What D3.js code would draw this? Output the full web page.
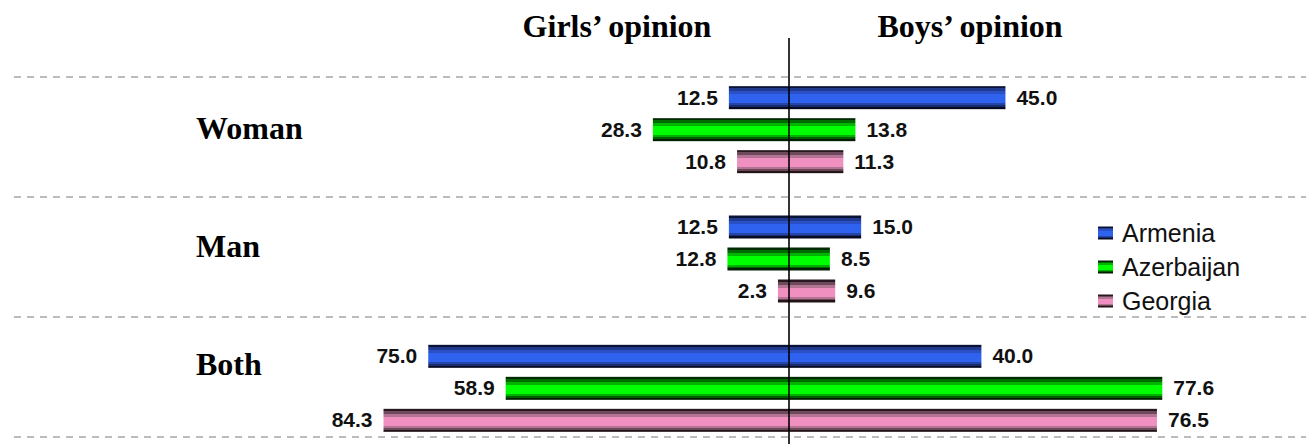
<!DOCTYPE html>
<html><head><meta charset="utf-8">
<script src="https://cdn.jsdelivr.net/npm/d3@7/dist/d3.min.js"></script>
<style>body{margin:0;background:#fff}svg{display:block}</style>
</head><body>
<svg id="c" width="1306" height="444"></svg>
<script>
const categories = ["Woman", "Man", "Both"];
const series = ["Armenia", "Azerbaijan", "Georgia"];
const girls = {            // left side
  Armenia:    [12.5, 12.5, 75.0],
  Azerbaijan: [28.3, 12.8, 58.9],
  Georgia:    [10.8, 2.3, 84.3]
};
const boys = {             // right side
  Armenia:    [45.0, 15.0, 40.0],
  Azerbaijan: [13.8, 8.5, 77.6],
  Georgia:    [11.3, 9.6, 76.5]
};
const sideTitles = ["Girls’ opinion", "Boys’ opinion"];

const palettes = {
  Armenia:    ["#0a1335","#1f3a8f","#2b4fc4","#2f62ee","#2645a8","#1a2c70","#060b22"],
  Azerbaijan: ["#002a00","#006a00","#00b400","#00ff00","#00b000","#006000","#002000"],
  Georgia:    ["#2a1820","#6e4a5c","#b47494","#f090c0","#b47494","#6a4858","#241418"]
};
const stopsAt = [0, 0.09, 0.22, 0.35, 0.74, 0.83, 0.91, 1];

const svg = d3.select("#c");
const W = 1306, H = 444, cx = 789;
const x = d3.scaleLinear().domain([-100, 100]).range([cx - 481, cx + 481]);
const y0 = d3.scaleBand().domain(categories).range([65, 453]).padding(0);
const y1 = d3.scalePoint().domain(series).range([-32, 32]);
const barH = 23;
const ySep = d3.scaleLinear().domain([0, 3]).range([77, 437]);
const yLab = d3.scalePoint().domain(categories).range([139, 375]);

// gradients
const defs = svg.append("defs");
series.forEach(s => {
  const g = defs.append("linearGradient").attr("id", "g_" + s)
    .attr("x1", 0).attr("x2", 0).attr("y1", 0).attr("y2", 1);
  const cols = palettes[s];
  cols.forEach((c, i) => {
    g.append("stop").attr("offset", stopsAt[i]).attr("stop-color", c);
    g.append("stop").attr("offset", stopsAt[i + 1]).attr("stop-color", c);
  });
});

// dashed separators
svg.append("g").selectAll("line").data(d3.range(4)).join("line")
  .attr("x1", 14).attr("x2", W).attr("y1", d => ySep(d)).attr("y2", d => ySep(d))
  .attr("stroke", "#a6a6a6").attr("stroke-width", 1.5).attr("stroke-dasharray", "7,6");

// rows
const rows = [];
categories.forEach((c, ci) => series.forEach(s => rows.push({
  cat: c, s, l: girls[s][ci], r: boys[s][ci]
})));
const yc = d => y0(d.cat) + y0.bandwidth() / 2 + y1(d.s);

svg.append("g").selectAll("rect").data(rows).join("rect")
  .attr("x", d => x(-d.l)).attr("width", d => x(d.r) - x(-d.l))
  .attr("y", d => yc(d) - barH / 2).attr("height", barH)
  .attr("fill", d => `url(#g_${d.s})`);

// center line
svg.append("line").attr("x1", cx).attr("x2", cx).attr("y1", 38).attr("y2", H)
  .attr("stroke", "#000").attr("stroke-width", 1.6);

// value labels
const lab = svg.append("g").attr("font-family", "'Liberation Sans', Arial, sans-serif")
  .attr("font-weight", "bold").attr("font-size", 21).attr("fill", "#111");
lab.selectAll("text.l").data(rows).join("text").attr("class", "l")
  .attr("x", d => x(-d.l) - 11).attr("y", d => yc(d) + 7).attr("text-anchor", "end")
  .text(d => d.l.toFixed(1));
lab.selectAll("text.r").data(rows).join("text").attr("class", "r")
  .attr("x", d => x(d.r) + 11).attr("y", d => yc(d) + 7).attr("text-anchor", "start")
  .text(d => d.r.toFixed(1));

// category labels
svg.append("g").selectAll("text").data(categories).join("text")
  .attr("x", 196).attr("y", d => yLab(d))
  .attr("font-family", "'Liberation Serif', 'Times New Roman', serif")
  .attr("font-weight", "bold").attr("font-size", 32).text(d => d);

// titles
svg.append("g").selectAll("text").data(sideTitles).join("text")
  .attr("x", (d, i) => i === 0 ? 617 : 970).attr("y", 37).attr("text-anchor", "middle")
  .attr("font-family", "'Liberation Serif', 'Times New Roman', serif")
  .attr("font-weight", "bold").attr("font-size", 32).text(d => d);

// legend
const lg = svg.append("g");
const ly = d3.scalePoint().domain(series).range([233, 301]);
lg.selectAll("rect").data(series).join("rect")
  .attr("x", 1098).attr("y", d => ly(d) - 6.5).attr("width", 15).attr("height", 13)
  .attr("fill", d => `url(#g_${d})`);
lg.selectAll("text").data(series).join("text")
  .attr("x", 1122).attr("y", d => ly(d) + 8.5)
  .attr("font-family", "'Liberation Sans', Arial, sans-serif").attr("font-size", 25)
  .attr("fill", "#111").text(d => d);
</script>
</body></html>
